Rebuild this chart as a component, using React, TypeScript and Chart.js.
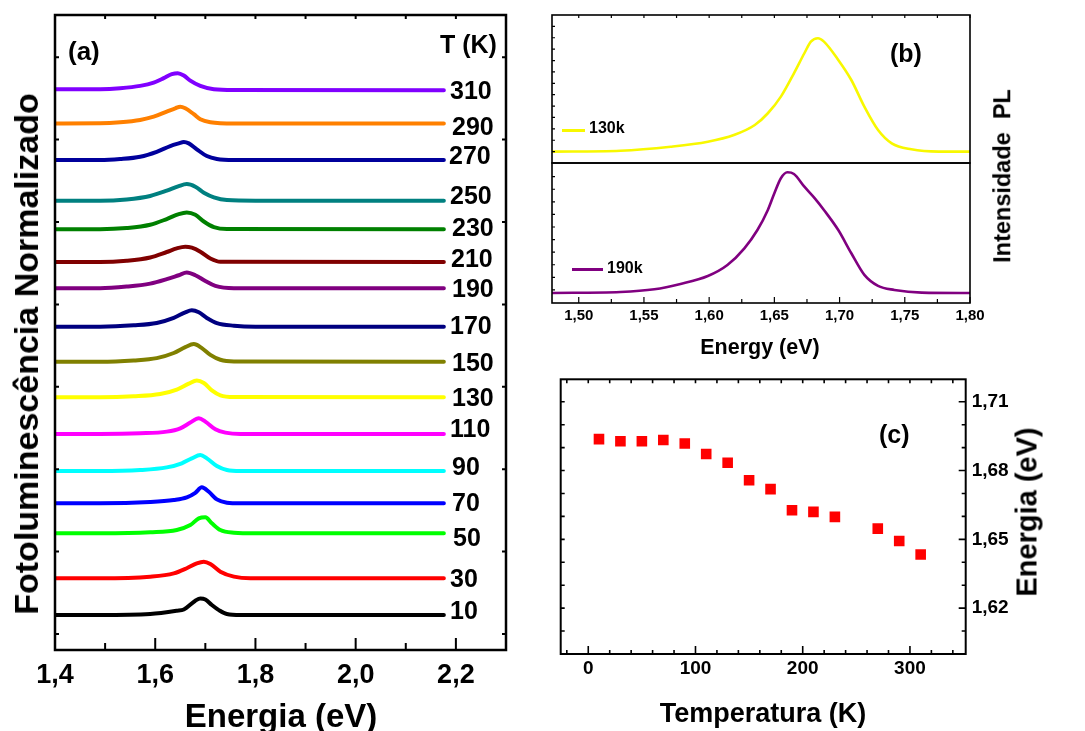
import React, { useEffect, useRef } from 'react';
import { Chart, registerables } from 'chart.js';

Chart.register(...registerables);

const FONT = '"Liberation Sans", Arial, Helvetica, sans-serif';

// ---------- Panel (a): normalized PL spectra, offset per temperature ----------
const temperaturesA = [10, 30, 50, 70, 90, 110, 130, 150, 170, 190, 210, 230, 250, 270, 290, 310];
const colorsA = ['#000000', '#ff0000', '#00ff00', '#0000ff', '#00ffff', '#ff00ff', '#ffff00', '#808000',
  '#000080', '#800080', '#800000', '#008000', '#008080', '#00009c', '#ff8000', '#8000ff'];
// vertical offset of each spectrum (stacking), in normalized-intensity units
const offsetsA = [1.15, 3.38, 6.11, 7.93, 9.89, 12.14, 14.36, 16.52, 18.65, 20.98, 22.57, 24.56, 26.29, 28.76, 30.98, 33.05];

// [energy (eV), normalized intensity]
const pl10 = [[1.40, 0], [1.49, 0], [1.59, 0.06], [1.643, 0.26], [1.657, 0.34], [1.68, 0.87], [1.69, 1.01], [1.70, 0.95], [1.713, 0.61], [1.727, 0.3], [1.743, 0.06], [1.77, 0], [2.176, 0]];
const pl30 = [[1.40, 0], [1.49, 0], [1.59, 0.1], [1.637, 0.3], [1.663, 0.61], [1.683, 0.91], [1.697, 1.01], [1.71, 0.87], [1.73, 0.4], [1.757, 0.1], [1.79, 0], [2.176, 0]];
const pl50 = [[1.40, 0], [1.49, 0], [1.59, 0.06], [1.643, 0.2], [1.67, 0.5], [1.687, 0.91], [1.70, 0.97], [1.713, 0.61], [1.73, 0.2], [1.757, 0.04], [1.8, 0], [2.176, 0]];
const pl70 = [[1.40, 0], [1.49, 0], [1.59, 0.08], [1.637, 0.2], [1.663, 0.36], [1.68, 0.64], [1.693, 0.97], [1.707, 0.7], [1.723, 0.24], [1.743, 0.04], [1.77, 0], [2.176, 0]];
const pl90 = [[1.40, 0], [1.49, 0], [1.57, 0.06], [1.623, 0.22], [1.653, 0.47], [1.673, 0.77], [1.69, 0.97], [1.703, 0.77], [1.723, 0.3], [1.743, 0.06], [1.77, 0], [2.176, 0]];
const pl110 = [[1.40, 0], [1.49, 0], [1.57, 0.04], [1.623, 0.14], [1.65, 0.34], [1.67, 0.69], [1.687, 0.95], [1.70, 0.75], [1.72, 0.28], [1.74, 0.08], [1.77, 0], [2.176, 0]];
const pl130 = [[1.40, 0], [1.49, 0], [1.557, 0.06], [1.61, 0.2], [1.643, 0.47], [1.667, 0.83], [1.683, 1.03], [1.697, 0.87], [1.713, 0.42], [1.73, 0.12], [1.757, 0.02], [2.176, 0]];
const pl150 = [[1.40, 0], [1.49, 0], [1.557, 0.08], [1.603, 0.22], [1.637, 0.53], [1.66, 0.89], [1.677, 1.07], [1.693, 0.83], [1.71, 0.42], [1.73, 0.12], [1.757, 0.02], [2.176, 0]];
const pl170 = [[1.40, 0], [1.49, 0], [1.557, 0.08], [1.603, 0.22], [1.637, 0.53], [1.66, 0.87], [1.673, 0.99], [1.687, 0.87], [1.703, 0.53], [1.723, 0.22], [1.757, 0.06], [1.8, 0], [2.176, 0]];
const pl190 = [[1.40, 0], [1.49, 0], [1.543, 0.1], [1.59, 0.28], [1.623, 0.55], [1.647, 0.79], [1.663, 0.95], [1.68, 0.79], [1.70, 0.44], [1.72, 0.14], [1.757, 0], [2.176, 0]];
const pl210 = [[1.40, 0], [1.49, 0], [1.543, 0.08], [1.59, 0.28], [1.623, 0.61], [1.643, 0.83], [1.66, 0.93], [1.673, 0.87], [1.69, 0.63], [1.71, 0.22], [1.73, 0.02], [2.176, 0]];
const pl230 = [[1.40, 0], [1.49, 0], [1.543, 0.07], [1.59, 0.27], [1.623, 0.62], [1.647, 0.92], [1.663, 1.02], [1.68, 0.88], [1.697, 0.47], [1.717, 0.13], [1.743, 0.01], [2.176, 0]];
const pl250 = [[1.40, 0], [1.49, 0], [1.543, 0.08], [1.59, 0.29], [1.623, 0.61], [1.647, 0.89], [1.663, 1.01], [1.68, 0.85], [1.697, 0.49], [1.717, 0.21], [1.743, 0.04], [1.8, 0], [2.176, 0]];
const pl270 = [[1.40, 0], [1.49, 0], [1.53, 0.06], [1.57, 0.2], [1.603, 0.5], [1.63, 0.85], [1.647, 1.01], [1.657, 1.09], [1.667, 1.01], [1.683, 0.65], [1.703, 0.24], [1.723, 0.06], [1.757, 0], [2.176, 0]];
const pl290 = [[1.40, 0], [1.49, 0.01], [1.53, 0.07], [1.57, 0.21], [1.597, 0.41], [1.623, 0.72], [1.64, 0.92], [1.65, 1.02], [1.66, 0.92], [1.677, 0.56], [1.69, 0.25], [1.71, 0.07], [1.757, -0.01], [2.176, 0]];
const pl310 = [[1.40, 0], [1.49, 0.01], [1.53, 0.07], [1.57, 0.21], [1.597, 0.41], [1.617, 0.68], [1.633, 0.92], [1.645, 0.98], [1.657, 0.84], [1.67, 0.53], [1.69, 0.21], [1.717, 0.01], [1.757, -0.04], [2.176, -0.05]];
const spectraA = [pl10, pl30, pl50, pl70, pl90, pl110, pl130, pl150, pl170, pl190, pl210, pl230, pl250, pl270, pl290, pl310];

// label placement for the temperature column (page px)
const labelLeftA = [450, 450, 453, 452, 452, 450, 452, 452, 450, 452, 451, 452, 450, 449, 452, 450];
const labelMidA = [610, 578, 537, 502, 466, 428, 397, 362, 325, 288, 258, 227, 195, 155, 126, 90];

// ---------- Panel (b): two spectra ----------
const spec130k = [[1.4795, 0], [1.532, 0.008], [1.5705, 0.043], [1.599, 0.087], [1.619, 0.146], [1.635, 0.234], [1.645, 0.337], [1.655, 0.483], [1.665, 0.688], [1.673, 0.864], [1.678, 0.966], [1.6834, 0.996], [1.688, 0.966], [1.699, 0.805], [1.709, 0.629], [1.719, 0.395], [1.7295, 0.19], [1.74, 0.073], [1.755, 0.02], [1.776, 0], [1.80, 0]];
const spec190k = [[1.4795, 0], [1.532, 0.008], [1.558, 0.03], [1.578, 0.074], [1.599, 0.14], [1.614, 0.231], [1.627, 0.369], [1.637, 0.52], [1.645, 0.686], [1.65, 0.824], [1.655, 0.948], [1.660, 0.997], [1.665, 0.983], [1.673, 0.878], [1.681, 0.782], [1.688, 0.686], [1.699, 0.52], [1.709, 0.328], [1.719, 0.149], [1.7295, 0.058], [1.742, 0.025], [1.763, 0.003], [1.80, 0]];

// ---------- Panel (c): peak energy vs temperature ----------
const temperaturesC = [10, 30, 50, 70, 90, 110, 130, 150, 170, 190, 210, 230, 270, 290, 310];
const peakEnergyC = [1.6937, 1.6928, 1.6928, 1.6933, 1.6918, 1.6872, 1.6834, 1.6758, 1.6719, 1.6627, 1.662, 1.6598, 1.6547, 1.6493, 1.6434];

// ---------- helpers ----------
const seq = (start: number, step: number, n: number) =>
  Array.from({ length: n }, (_, k) => +(start + step * k).toFixed(6));

type Side = 'top' | 'bottom' | 'left' | 'right';
type TickSet = { scale: string; side: Side; values: number[]; len: number };

function framePlugin(lineWidth: number, tickWidth: number, sets: TickSet[]) {
  return {
    id: 'frame',
    afterDatasetsDraw(chart: any) {
      const { ctx, chartArea: a } = chart;
      ctx.save();
      ctx.strokeStyle = '#000';
      ctx.lineWidth = tickWidth;
      ctx.beginPath();
      for (const t of sets) {
        const sc = chart.scales[t.scale];
        for (const v of t.values) {
          const p = sc.getPixelForValue(v);
          if (t.side === 'bottom') { ctx.moveTo(p, a.bottom); ctx.lineTo(p, a.bottom - t.len); }
          else if (t.side === 'top') { ctx.moveTo(p, a.top); ctx.lineTo(p, a.top + t.len); }
          else if (t.side === 'left') { ctx.moveTo(a.left, p); ctx.lineTo(a.left + t.len, p); }
          else { ctx.moveTo(a.right, p); ctx.lineTo(a.right - t.len, p); }
        }
      }
      ctx.stroke();
      ctx.lineWidth = lineWidth;
      ctx.strokeRect(a.left, a.top, a.right - a.left, a.bottom - a.top);
      ctx.restore();
    },
  };
}

const comma = (d: number) => (v: any) => Number(v).toFixed(d).replace('.', ',');
const tickFont = (size: number) => ({ family: FONT, size, weight: 'bold' as const });

function ChartCanvas({ left, top, width, height, make }: { left: number; top: number; width: number; height: number; make: () => any }) {
  const ref = useRef<HTMLCanvasElement | null>(null);
  useEffect(() => {
    const chart = new Chart(ref.current as HTMLCanvasElement, make());
    return () => chart.destroy();
  }, []);
  return (
    <canvas ref={ref} width={width} height={height}
      style={{ position: 'absolute', left, top, width, height }} />
  );
}

type TxtProps = { x: number; y: number; size: number; text: string; align?: 'left' | 'center'; rotate?: boolean };
function Txt({ x, y, size, text, align = 'left', rotate = false }: TxtProps) {
  const tf = rotate ? 'translate(-50%,-50%) rotate(-90deg)' : align === 'center' ? 'translate(-50%,-50%)' : 'translate(0,-50%)';
  return (
    <div style={{ position: 'absolute', left: x, top: y, transform: tf, fontFamily: FONT, fontWeight: 'bold', fontSize: size, lineHeight: 1, whiteSpace: 'pre', color: '#000' }}>{text}</div>
  );
}

const baseOpts = {
  responsive: false,
  animation: false,
  events: [],
  plugins: { legend: { display: false }, tooltip: { enabled: false } },
};

function makeA() {
  return {
    type: 'line',
    data: {
      datasets: spectraA.map((s, i) => ({
        label: `${temperaturesA[i]} K`,
        data: s.map(([e, v]) => ({ x: e, y: v + offsetsA[i] })),
        borderColor: colorsA[i],
        borderWidth: 4,
        pointRadius: 0,
        cubicInterpolationMode: 'monotone',
        borderCapStyle: 'round',
        borderJoinStyle: 'round',
        fill: false,
      })),
    },
    options: {
      ...baseOpts,
      layout: { padding: { left: 55, top: 15, right: 14, bottom: 0 } },
      scales: {
        x: {
          type: 'linear', min: 1.4, max: 2.3,
          grid: { display: false, drawTicks: false }, border: { display: false },
          ticks: { stepSize: 0.2, includeBounds: false, padding: 9, color: '#000', font: tickFont(27), callback: comma(1), maxRotation: 0, autoSkip: false },
          afterFit: (s: any) => { s.height = 81; },
        },
        y: { type: 'linear', display: false, min: -0.97, max: 37.56 },
      },
    },
    plugins: [framePlugin(2.5, 2, [
      { scale: 'x', side: 'bottom', values: seq(1.4, 0.2, 5), len: 12 },
      { scale: 'x', side: 'bottom', values: seq(1.5, 0.2, 4), len: 7 },
      { scale: 'x', side: 'top', values: seq(1.5, 0.1, 8), len: 4 },
      { scale: 'y', side: 'left', values: seq(0, 5, 8), len: 4 },
      { scale: 'y', side: 'right', values: seq(0, 5, 8), len: 4 },
    ])],
  };
}

function makeB1() {
  return {
    type: 'line',
    data: {
      datasets: [{
        label: '130k', data: spec130k.map(([e, v]) => ({ x: e, y: v })),
        borderColor: '#f8f800', borderWidth: 2.6, pointRadius: 0, cubicInterpolationMode: 'monotone', fill: false,
      }],
    },
    options: {
      ...baseOpts,
      layout: { padding: { left: 32, top: 15, right: 115, bottom: 7 } },
      scales: {
        x: { type: 'linear', display: false, min: 1.4795, max: 1.80 },
        y: { type: 'linear', display: false, min: -0.1, max: 1.2 },
      },
    },
    plugins: [framePlugin(1.6, 1.2, [
      { scale: 'y', side: 'left', values: seq(0, 0.1, 12), len: 3 },
      { scale: 'x', side: 'top', values: seq(1.5, 0.025, 13), len: 3 },
    ])],
  };
}

function makeB2() {
  return {
    type: 'line',
    data: {
      datasets: [{
        label: '190k', data: spec190k.map(([e, v]) => ({ x: e, y: v })),
        borderColor: '#800080', borderWidth: 2.6, pointRadius: 0, cubicInterpolationMode: 'monotone', fill: false,
      }],
    },
    options: {
      ...baseOpts,
      layout: { padding: { left: 32, top: 13, right: 115, bottom: 0 } },
      scales: {
        x: {
          type: 'linear', min: 1.4795, max: 1.80,
          grid: { display: false, drawTicks: false }, border: { display: false },
          ticks: { stepSize: 0.05, includeBounds: false, padding: 4, color: '#000', font: tickFont(15), callback: comma(2), maxRotation: 0, autoSkip: false },
          afterFit: (s: any) => { s.height = 67; },
        },
        y: { type: 'linear', display: false, min: -0.083, max: 1.074 },
      },
    },
    plugins: [framePlugin(1.6, 1.2, [
      { scale: 'x', side: 'bottom', values: seq(1.5, 0.05, 7), len: 6 },
      { scale: 'x', side: 'bottom', values: seq(1.525, 0.05, 6), len: 4 },
      { scale: 'y', side: 'left', values: seq(0.025, 0.104, 10), len: 3 },
    ])],
  };
}

function makeC() {
  return {
    type: 'scatter',
    data: {
      datasets: [{
        label: 'Energia', data: temperaturesC.map((t, i) => ({ x: t, y: peakEnergyC[i] })),
        backgroundColor: '#ff0000', borderWidth: 0, pointStyle: 'rect', pointRadius: 7.5,
      }],
    },
    options: {
      ...baseOpts,
      layout: { padding: { left: 40.7, top: 19.3, right: 0, bottom: 0 } },
      scales: {
        x: {
          type: 'linear', min: -25.7, max: 352,
          grid: { display: false, drawTicks: false }, border: { display: false },
          ticks: { stepSize: 100, includeBounds: false, padding: 3, color: '#000', font: tickFont(19), maxRotation: 0, autoSkip: false },
          afterFit: (s: any) => { s.height = 77; },
        },
        y: {
          type: 'linear', position: 'right', min: 1.60, max: 1.7198,
          grid: { display: false, drawTicks: false }, border: { display: false },
          ticks: { stepSize: 0.03, includeBounds: false, padding: 6, color: '#000', font: tickFont(19), callback: comma(2), autoSkip: false },
          afterFit: (s: any) => { s.width = 119.3; },
        },
      },
    },
    plugins: [framePlugin(2, 1.6, [
      { scale: 'x', side: 'bottom', values: seq(0, 100, 4), len: 8 },
      { scale: 'x', side: 'bottom', values: seq(-20, 20, 19), len: 4 },
      { scale: 'x', side: 'top', values: seq(-20, 20, 19), len: 4 },
      { scale: 'y', side: 'left', values: seq(1.61, 0.01, 11), len: 4 },
      { scale: 'y', side: 'right', values: seq(1.62, 0.03, 4), len: 7 },
      { scale: 'y', side: 'right', values: seq(1.61, 0.01, 11), len: 4 },
    ])],
  };
}

export default function App() {
  return (
    <div style={{ position: 'absolute', left: 0, top: 0, width: 1085, height: 731, background: '#fff', overflow: 'hidden' }}>
      <ChartCanvas left={0} top={0} width={520} height={731} make={makeA} />
      <ChartCanvas left={520} top={0} width={565} height={170} make={makeB1} />
      <ChartCanvas left={520} top={150} width={565} height={220} make={makeB2} />
      <ChartCanvas left={520} top={360} width={565} height={371} make={makeC} />

      {/* Panel (a) texts */}
      <Txt x={26} y={354} size={34} text="Fotoluminescência Normalizado" rotate />
      <Txt x={281} y={715} size={33} text="Energia (eV)" align="center" />
      <Txt x={68} y={51} size={26} text="(a)" />
      <Txt x={440} y={44} size={25} text="T (K)" />
      {temperaturesA.map((t, i) => (
        <Txt key={t} x={labelLeftA[i]} y={labelMidA[i]} size={25} text={String(t)} />
      ))}

      {/* Panel (b) texts */}
      <Txt x={890} y={53} size={25} text="(b)" />
      <div style={{ position: 'absolute', left: 562, top: 128.5, width: 23, height: 3, background: '#f8f800' }} />
      <Txt x={589} y={128} size={16} text="130k" />
      <div style={{ position: 'absolute', left: 572, top: 267.5, width: 31, height: 3, background: '#800080' }} />
      <Txt x={607} y={268} size={16} text="190k" />
      <Txt x={760} y={348} size={21.5} text="Energy (eV)" align="center" />
      <Txt x={1003} y={176} size={23.5} text="Intensidade  PL" rotate />

      {/* Panel (c) texts */}
      <Txt x={879} y={434} size={25} text="(c)" />
      <Txt x={763} y={713} size={27} text="Temperatura (K)" align="center" />
      <Txt x={1027} y={512} size={29} text="Energia (eV)" rotate />
    </div>
  );
}
